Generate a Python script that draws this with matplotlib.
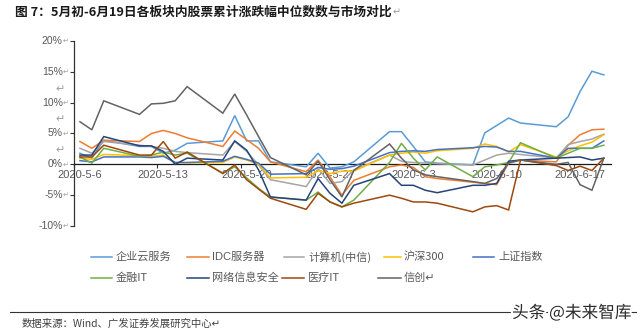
import numpy as np
import matplotlib
matplotlib.use("Agg")
import matplotlib.pyplot as plt
import matplotlib.patheffects as pe
from matplotlib.lines import Line2D

# trading days, 2020-05-06 .. 2020-06-19
trade_days = [
    "2020-05-06", "2020-05-07", "2020-05-08", "2020-05-11", "2020-05-12",
    "2020-05-13", "2020-05-14", "2020-05-15", "2020-05-18", "2020-05-19",
    "2020-05-20", "2020-05-21", "2020-05-22", "2020-05-25", "2020-05-26",
    "2020-05-27", "2020-05-28", "2020-05-29", "2020-06-01", "2020-06-02",
    "2020-06-03", "2020-06-04", "2020-06-05", "2020-06-08", "2020-06-09",
    "2020-06-10", "2020-06-11", "2020-06-12", "2020-06-15", "2020-06-16",
    "2020-06-17", "2020-06-18", "2020-06-19",
]
tick_dates = ["2020-05-06", "2020-05-13", "2020-05-20", "2020-05-27",
              "2020-06-03", "2020-06-10", "2020-06-17"]
tick_labels = ["2020-5-6", "2020-5-13", "2020-5-20", "2020-5-27",
               "2020-6-3", "2020-6-10", "2020-6-17"]

# cumulative change of the median stock (%)
qiye_yun = [1.8, 1.0, 3.9, 2.9, 2.9, 1.8, 2.3, 3.4, 3.8, 7.9, 3.8, 3.8, 0.4, -0.4, 1.8, -0.6, -0.4,
            0.4, 5.3, 5.3, 2.9, 0.4, 0.2, -0.1, 5.1, 6.3, 7.5, 6.7, 6.1, 7.7, 11.8, 15.1, 14.5]
idc = [3.7, 2.6, 3.9, 3.7, 5.0, 5.5, 5.0, 4.3, 2.9, 5.4, 4.0, 2.6, 0.4, -1.2, 0.7, -2.0, -5.0,
       -2.6, -0.4, -0.1, -0.5, -2.0, -2.3, -2.9, -3.1, -3.3, 0.2, 0.7, 0.4, 3.1, 4.8, 5.6, 5.7]
jisuanji = [2.6, 1.8, 3.7, 3.1, 2.9, 2.6, 2.1, 1.9, 1.5, 3.7, 2.1, -0.1, -2.5, -3.6, -0.7, -3.1, -2.8,
            -0.9, 1.5, 0.5, 0.3, 0.2, 0.1, -0.1, 0.7, 1.5, 1.8, 1.6, 1.0, 3.2, 3.7, 4.1, 4.9]
hs300 = [1.0, 0.8, 1.6, 1.4, 1.3, 1.5, 0.3, 0.2, 0.3, 1.2, 0.7, 0.0, -2.2, -2.1, -1.0, -1.5, -1.1,
         -1.1, 1.5, 1.8, 2.0, 1.8, 2.2, 2.6, 3.3, 2.9, 2.0, 3.2, 1.2, 2.2, 3.0, 3.6, 4.8]
shangzheng = [0.6, 0.4, 1.2, 1.2, 1.1, 1.3, 0.3, 0.3, 0.5, 1.3, 0.8, 0.2, -1.6, -1.5, -0.5, -0.8, -0.7,
              -0.3, 1.9, 2.1, 2.2, 2.1, 2.4, 2.7, 2.9, 2.8, 2.1, 2.1, 1.0, 2.6, 2.6, 2.6, 3.8]
jinrong_it = [1.2, 0.2, 2.6, 1.3, 1.5, 2.0, 1.5, 1.8, -1.4, -0.4, -2.2, -3.9, -5.3, -5.8, -4.5, -6.1, -6.9,
              -5.8, 0.3, 3.4, 1.0, -0.9, 1.2, -2.0, -0.4, -0.1, 0.3, 3.5, 1.0, 1.8, 2.6, 2.6, 3.1]
wangluo = [1.5, 1.5, 4.5, 3.0, 3.0, 2.1, 0.0, 1.0, 0.7, 3.8, 2.3, -0.9, -5.3, -5.8, -2.3, -4.7, -6.3,
           -3.4, -1.5, -3.4, -3.4, -4.2, -4.6, -3.4, -3.4, -3.1, 0.5, 0.7, 1.0, 1.1, 1.2, 0.7, 1.0]
yiliao_it = [1.2, 1.2, 3.1, 1.5, 1.5, 3.7, 1.0, 2.0, -1.5, -0.1, -2.5, -4.0, -5.5, -7.3, -4.7, -6.1, -6.9,
             -6.3, -5.0, -5.5, -6.1, -6.1, -6.3, -7.7, -6.9, -6.7, -7.4, 0.7, -0.2, -1.0, -0.3, -1.0, 1.0]
xinchuang = [6.9, 5.6, 10.3, 8.1, 9.8, 9.9, 10.3, 12.6, 8.3, 11.4, 8.0, 4.5, 1.1, -1.7, 0.5, -2.5, -5.3,
             -1.0, 3.3, 1.0, -0.9, -1.7, -2.0, -2.8, -3.1, -2.3, 0.2, 0.7, 0.0, 0.3, -3.3, -4.2, 1.0]

series = [
    ("企业云服务", qiye_yun, "#5B9BD5"),
    ("IDC服务器", idc, "#ED7D31"),
    ("计算机(中信)", jisuanji, "#A5A5A5"),
    ("沪深300", hs300, "#FFC000"),
    ("上证指数", shangzheng, "#4472C4"),
    ("金融IT", jinrong_it, "#70AD47"),
    ("网络信息安全", wangluo, "#264478"),
    ("医疗IT", yiliao_it, "#9E480E"),
    ("信创", xinchuang, "#636363"),
]

CJK = ["Noto Sans CJK SC", "DejaVu Sans"]
NUM = ["Liberation Sans", "Noto Sans CJK SC", "DejaVu Sans"]
plt.rcParams["font.family"] = CJK

W, H = 640, 335


def fx(px):
    return px / W


def fy(py):
    return 1 - py / H


start = np.datetime64("2020-05-06")
x = (np.array(trade_days, dtype="datetime64[D]") - start).astype(int)
x_ticks = (np.array(tick_dates, dtype="datetime64[D]") - start).astype(int)

fig = plt.figure(figsize=(6.4, 3.35), dpi=100)
ax = fig.add_axes([fx(74), fy(226), fx(611) - fx(74), fy(41) - fy(226)])

for name, vals, color in series:
    ax.plot(x, vals, color=color, lw=1.1, solid_joinstyle="miter", zorder=3)

ax.set_xlim(-0.5, 44.6)
ax.set_ylim(-10, 20)

for s in ("top", "right"):
    ax.spines[s].set_visible(False)
ax.spines["bottom"].set_position(("data", 0))
ax.spines["bottom"].set_color("#1a1a1a")
ax.spines["bottom"].set_linewidth(0.9)
ax.spines["left"].set_color("#333333")
ax.spines["left"].set_linewidth(0.9)

# tick marks sit on week boundaries, labels on the dates
ax.set_xticks(x_ticks - 0.5)
ax.set_xticklabels([])
ax.tick_params(axis="x", which="major", length=3, width=0.8, color="#333333", direction="out")
ax.set_xticks(x_ticks, minor=True)
ax.set_xticklabels(tick_labels, minor=True, fontsize=8, color="#595959", family=NUM)
ax.tick_params(axis="x", which="minor", length=0, pad=4)

y_vals = np.arange(-10, 21, 5)
ax.set_yticks(y_vals)
ax.set_yticklabels([])
ax.tick_params(axis="y", length=3, width=0.8, color="#333333", direction="out")
for v in y_vals:
    ax.annotate(f"{v}%", xy=(0, v), xycoords=("axes fraction", "data"),
                xytext=(-8.2, 0), textcoords="offset points",
                ha="right", va="center", fontsize=7.5, color="#595959", family=NUM)
    ax.annotate("↵", xy=(0, v), xycoords=("axes fraction", "data"),
                xytext=(-8.2, 0), textcoords="offset points",
                ha="left", va="center", fontsize=5, color="#A0A0A0", family=CJK)
for v in (12.5, 7.5, 2.5):
    ax.annotate("↵", xy=(0, v), xycoords=("axes fraction", "data"),
                xytext=(-13, -1), textcoords="offset points",
                ha="left", va="center", fontsize=8, color="#A0A0A0", family=CJK)

# title
t = fig.text(fx(15), fy(12), "图 7：5月初-6月19日各板块内股票累计涨跌幅中位数数与市场对比",
             fontsize=9.2, fontweight="bold", color="#1a1a1a", va="center", ha="left")
fig.canvas.draw()
bb = t.get_window_extent()
fig.text(bb.x1 / W + 0.002, fy(12), "↵", fontsize=7, color="#A0A0A0", va="center", ha="left")

# legend laid out in two rows
legend_pos = [
    (91, 112, 116, 257), (187, 209, 212, 257), (284, 304, 308, 257),
    (384, 401, 404, 257), (473, 494, 498, 257),
    (91, 112, 116, 278), (187, 209, 212, 278), (282, 304, 308, 278),
    (378, 401, 404, 278),
]
for (name, vals, color), (x0, x1, tx, ty) in zip(series, legend_pos):
    fig.add_artist(Line2D([fx(x0), fx(x1)], [fy(ty), fy(ty)], color=color, lw=1.1))
    label = name + ("↵" if name == "信创" else "")
    fig.text(fx(tx), fy(ty), label, fontsize=8, color="#595959", va="center", ha="left",
             family=NUM if name.startswith("IDC") else CJK)

# source footer
fig.add_artist(Line2D([fx(10), fx(636)], [fy(312), fy(312)], color="#333333", lw=0.8))
fig.text(fx(22), fy(324), "数据来源：Wind、广发证券发展研究中心↵", fontsize=7.5,
         color="#404040", va="center", ha="left")
fig.text(fx(512), fy(313), "头条 @未来智库", fontsize=12, color="#2a2a2a", va="center", ha="left",
         path_effects=[pe.withStroke(linewidth=3, foreground="white")])

fig.savefig("out.png", dpi=100)
